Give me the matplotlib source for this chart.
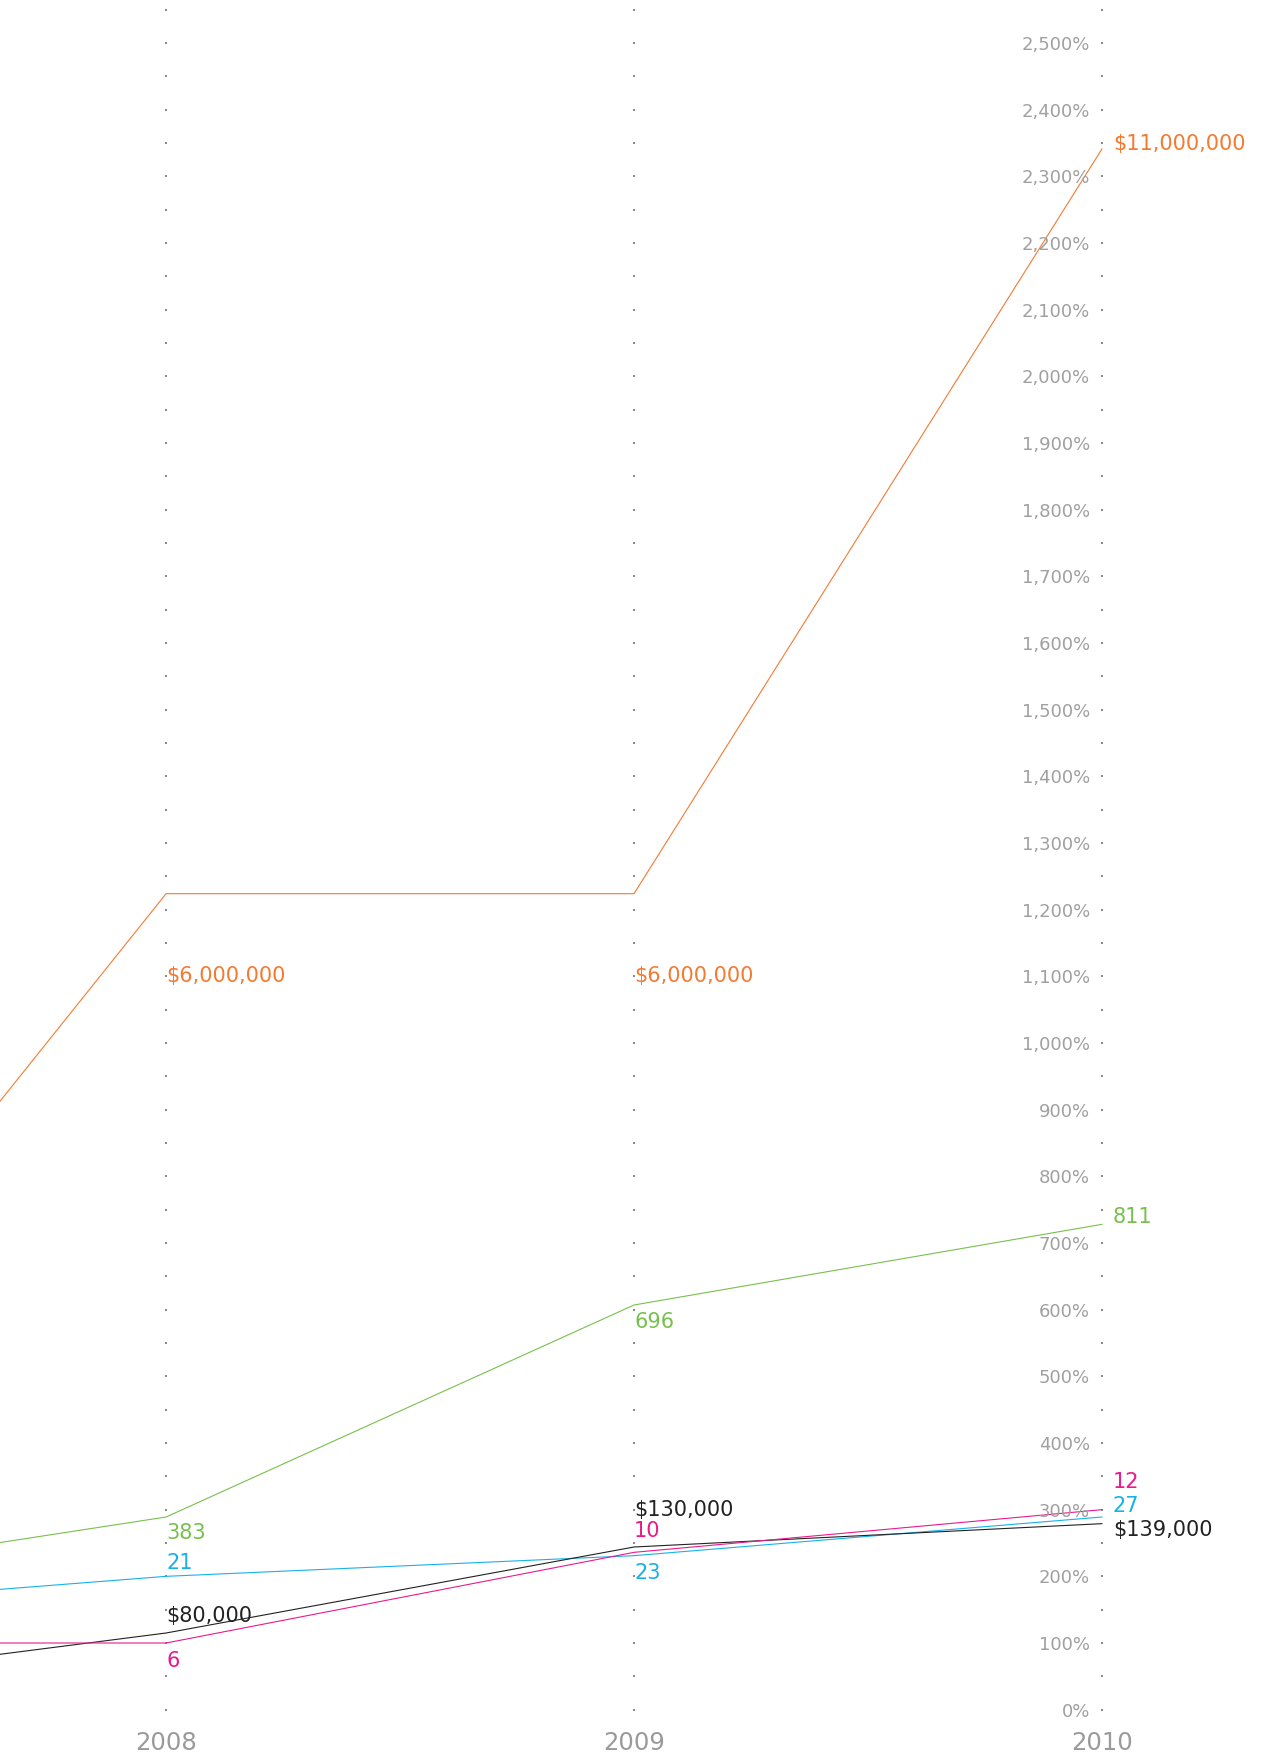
import matplotlib
matplotlib.use("Agg")
import matplotlib.pyplot as plt
import numpy as np

plt.rcParams["font.family"] = ["DejaVu Sans"]

# data: growth since base year, in percent (2007 is off the left edge)
years = [2007, 2008, 2009, 2010]
revenue_pct = [347, 1224, 1224, 2341]
green_pct = [181, 289, 607, 728]
blue_pct = [145, 200, 231, 289]
black_pct = [25, 115, 244, 279]
pink_pct = [100, 100, 236, 300]

revenue_labels = ["", "$6,000,000", "$6,000,000", "$11,000,000"]
green_labels = ["", "383", "696", "811"]
blue_labels = ["", "21", "23", "27"]
black_labels = ["", "$80,000", "$130,000", "$139,000"]
pink_labels = ["", "6", "10", "12"]

axis_years = [2008, 2009, 2010]
pct_ticks = list(range(0, 2600, 100))

# label baseline offsets in px (down = positive) for 2008, 2009, 2010
series = [
    (revenue_pct, revenue_labels, "#f47a32", [87, 87, 0]),
    (green_pct, green_labels, "#78c04e", [21, 22, -2]),
    (blue_pct, blue_labels, "#17b1e9", [-8, 22, -6]),
    (black_pct, black_labels, "#222222", [-12, -32, 11]),
    (pink_pct, pink_labels, "#ea1a8c", [23, -16, -23]),
]

W, H = 1276, 1758
fig = plt.figure(figsize=(W / 100, H / 100), dpi=100)
ax = fig.add_axes([0, 0, 1, 1])
ax.set_xlim(2007.645, 2010.372)
ax.set_ylim(-71, 2566)
ax.axis("off")

PT = 0.72  # px -> pt at 100 dpi

# dotted year columns
for yr in axis_years:
    dots = np.arange(0, 2551, 50)
    ax.scatter([yr] * len(dots), dots, s=2.6, marker="s", color="#8a8a8a",
               linewidths=0, zorder=1)
    ax.annotate(str(yr), (yr, 0), xytext=(0, -39 * PT), textcoords="offset points",
                ha="center", va="baseline", fontsize=17.5, color="#9a9a9a")

for p in pct_ticks:
    ax.annotate(f"{p:,}%", (2010, p), xytext=(-12 * PT, -6 * PT),
                textcoords="offset points", ha="right", va="baseline",
                fontsize=13, color="#a0a0a0")

for vals, labels, color, offs in series:
    ax.plot(years, vals, color=color, lw=0.8, zorder=2)
    for i, yr in enumerate(axis_years):
        dx = 11 if yr == 2010 else 0
        ax.annotate(labels[i + 1], (yr, vals[i + 1]),
                    xytext=(dx * PT, -offs[i] * PT), textcoords="offset points",
                    ha="left", va="baseline", fontsize=15, color=color, zorder=3)

fig.savefig("out.png", dpi=100)
